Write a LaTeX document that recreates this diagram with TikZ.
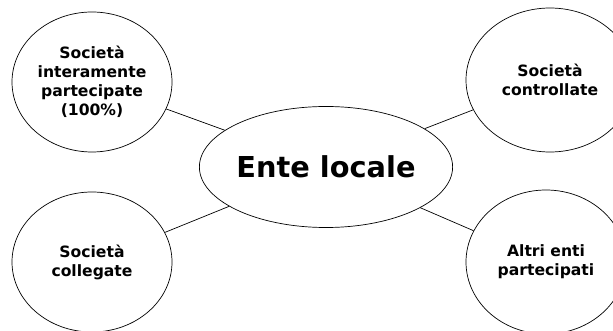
\documentclass[tikz,border=0pt]{standalone}
\usepackage{fontspec}
\setmainfont{DejaVu Sans}
\usepackage{tikz}
\usetikzlibrary{shapes.geometric}

\begin{document}
\begin{tikzpicture}[x=1pt, y=-1pt,
    entity/.style={draw, ellipse, line width=0.7pt, align=center, inner sep=0pt,
      font=\bfseries\fontsize{15.6}{19}\selectfont},
    link/.style={line width=0.7pt}]
  \useasboundingbox (0,0) rectangle (613,331);

  % Central node
  \node[entity, minimum width=250pt, minimum height=121pt,
    font=\bfseries\fontsize{28.8}{32}\selectfont] (ente) at (326,167) {Ente locale};

  % Participated companies
  \node[entity, minimum width=160pt, minimum height=140pt] (interamente) at (92,82)
    {Società\\interamente\\partecipate\\(100\%)};
  \node[entity, minimum width=168pt, minimum height=144pt] (controllate) at (550,80)
    {Società\\controllate};
  \node[entity, minimum width=160pt, minimum height=140pt] (collegate) at (92,262)
    {Società\\collegate};
  \node[entity, minimum width=160pt, minimum height=144pt] (altri) at (546,262)
    {Altri enti\\partecipati};

  % Links
  \draw[link] (interamente) -- (ente);
  \draw[link] (controllate) -- (ente);
  \draw[link] (collegate) -- (ente);
  \draw[link] (altri) -- (ente);
\end{tikzpicture}
\end{document}
